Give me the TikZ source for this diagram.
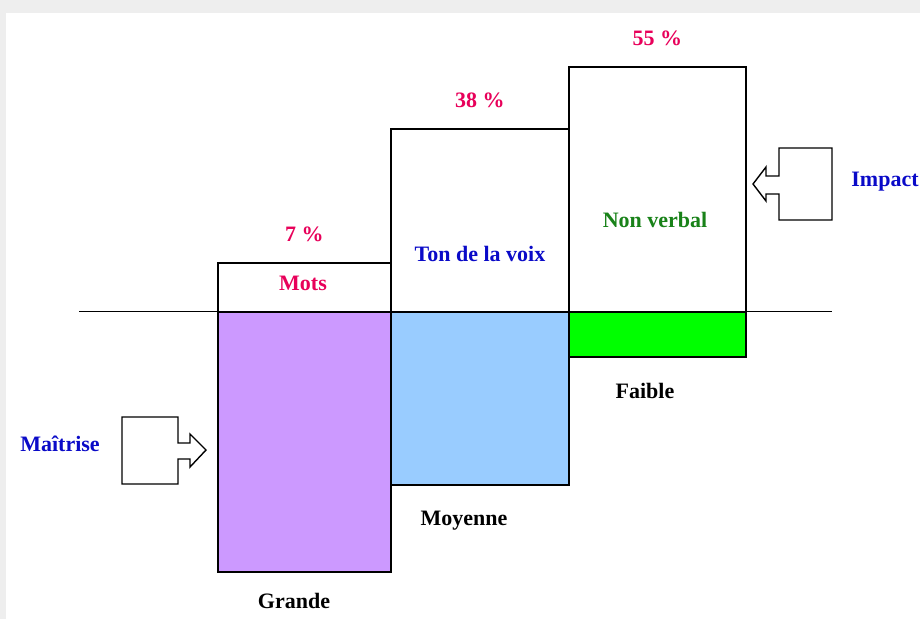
\documentclass[tikz,border=0pt]{standalone}
\usepackage{fontspec}
\setmainfont{Liberation Serif}
\usepackage{xcolor}
\usetikzlibrary{positioning}
\definecolor{rose}{RGB}{232,0,90}
\definecolor{bleutexte}{RGB}{10,10,200}
\definecolor{verttexte}{RGB}{25,130,25}
\definecolor{mauve}{RGB}{204,153,255}
\definecolor{ciel}{RGB}{153,204,255}
\definecolor{fluo}{RGB}{0,255,0}
\definecolor{cadre}{RGB}{238,238,238}

\begin{document}
\begin{tikzpicture}[
  x=1pt, y=-1pt,
  box/.style={draw, line width=1.5pt, anchor=north west, inner sep=0pt},
  txt/.style={font=\fontsize{22}{24}\selectfont\bfseries, inner sep=0pt},
  pct/.style={txt, text=rose},
  bas/.style={txt, text=black},
  fleche/.style={draw, line width=1.4pt, fill=white, line join=miter}
]
\useasboundingbox (0,0) rectangle (920,619);
\fill[cadre] (0,0) rectangle (920,619);
\fill[white] (6,13) rectangle (920,619);

% partie haute : impact
\node[box, fill=white, minimum width=173pt, minimum height=49pt] (motsH) at (217,262) {};
\node[box, fill=white, minimum width=178pt, minimum height=183pt] (tonH) at (390,128) {};
\node[box, fill=white, minimum width=177pt, minimum height=245pt] (nvH) at (568,66) {};

% partie basse : maitrise
\node[box, fill=mauve, minimum width=173pt, minimum height=260pt] (motsB) at (217,311) {};
\node[box, fill=ciel, minimum width=178pt, minimum height=173pt] (tonB) at (390,311) {};
\node[box, fill=fluo, minimum width=177pt, minimum height=45pt] (nvB) at (568,311) {};

\draw[line width=0.8pt] (79,311) -- (832,311);

\node[pct, above=20pt of motsH] (p7) {7 \%};
\node[pct, above=20pt of tonH] (p38) {38 \%};
\node[pct, above=20pt of nvH] (p55) {55 \%};

\node[txt, text=rose] (mots) at (303,283) {Mots};
\node[txt, text=bleutexte] (ton) at (480,254) {Ton de la voix};
\node[txt, text=verttexte] (nv) at (655,220) {Non verbal};

\node[bas] (faible) at (645,391) {Faible};
\node[bas] (moyenne) at (464,521) {Moyenne};
\node[bas] (grande) at (294,601) {Grande};

\node[txt, text=bleutexte] (maitrise) at (60,444) {Maîtrise};
\node[txt, text=bleutexte] (impact) at (885,182) {Impact};

% fleches blocs
\draw[fleche] (122,417) -- (178,417) -- (178,443) -- (190,443) -- (190,434)
  -- (206,450) -- (190,467) -- (190,459) -- (178,459) -- (178,484)
  -- (122,484) -- cycle;
\draw[fleche] (832,148) -- (779,148) -- (779,176) -- (766,176) -- (766,167)
  -- (753,184) -- (766,201) -- (766,194) -- (779,194) -- (779,220)
  -- (832,220) -- cycle;
\end{tikzpicture}
\end{document}
